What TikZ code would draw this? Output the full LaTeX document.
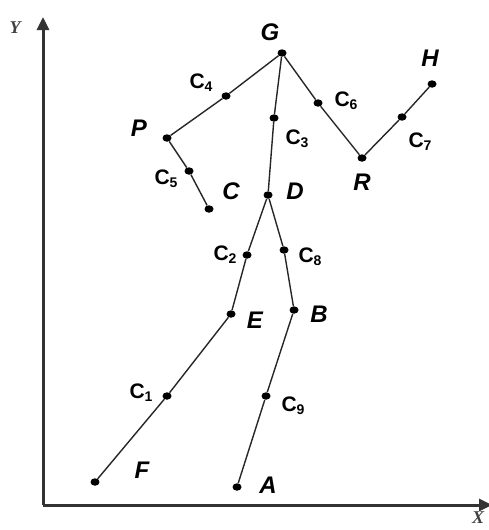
\documentclass[tikz,border=0pt]{standalone}
\usepackage{fontspec}
\usetikzlibrary{arrows.meta}
\newfontfamily\lblfont{Liberation Sans}
\newfontfamily\axfont{Liberation Serif}
\newcommand{\csub}[2]{#1\raisebox{-3pt}{\fontsize{14}{14}\selectfont #2}}
\tikzset{
  joint/.style={ellipse, fill=black, inner sep=0pt, minimum width=9pt, minimum height=7.5pt},
  seg/.style={line width=1.4pt, black!85},
  axis/.style={line width=3pt, black!80, -{Triangle[length=13pt,width=12pt]}},
  ptlbl/.style={font=\lblfont\fontsize{24}{24}\selectfont\bfseries\itshape},
  clbl/.style={font=\lblfont\fontsize{21}{21}\selectfont\bfseries},
  axlbl/.style={font=\axfont\fontsize{18}{18}\selectfont\bfseries\itshape, black!75}
}
\usetikzlibrary{shapes.geometric}
\begin{document}
\begin{tikzpicture}[x=1pt, y=-1pt]
\useasboundingbox (0,0) rectangle (488,530);
% axes
\coordinate (O) at (43,505);
\coordinate (ytip) at (43,17);
\coordinate (xtip) at (492,505);
\draw[axis] (O) -- (ytip);
\draw[axis] (O) -- (xtip);
\node[axlbl] (ylab) at (15,28) {Y};
\node[axlbl] (xlab) at (478,518) {X};
% joints
\node[joint] (G) at (282,53) {};
\node[joint] (C4) at (226,96) {};
\node[joint] (P) at (167,138) {};
\node[joint] (C5) at (189,171) {};
\node[joint] (C) at (209,209) {};
\node[joint] (C3) at (274,118) {};
\node[joint] (D) at (268,195) {};
\node[joint] (C6) at (318,103) {};
\node[joint] (R) at (362,158) {};
\node[joint] (C7) at (402,117) {};
\node[joint] (H) at (432,84) {};
\node[joint] (C2) at (247,255) {};
\node[joint] (C8) at (284,250) {};
\node[joint] (E) at (231,314) {};
\node[joint] (B) at (294,310) {};
\node[joint] (C1) at (167,396) {};
\node[joint] (C9) at (266,396) {};
\node[joint] (F) at (95,482) {};
\node[joint] (A) at (237,487) {};
% limbs
\draw[seg] (G) -- (C4) -- (P) -- (C5) -- (C);
\draw[seg] (G) -- (C3) -- (D);
\draw[seg] (G) -- (C6) -- (R) -- (C7) -- (H);
\draw[seg] (D) -- (C2) -- (E) -- (C1) -- (F);
\draw[seg] (D) -- (C8) -- (B) -- (C9) -- (A);
% labels
\node[ptlbl] (lG) at (270,32) {G};
\node[ptlbl] (lP) at (139,128) {P};
\node[ptlbl] (lC) at (231,191) {C};
\node[ptlbl] (lD) at (295,191) {D};
\node[ptlbl] (lR) at (362,182) {R};
\node[ptlbl] (lH) at (430,58) {H};
\node[ptlbl] (lE) at (255,320) {E};
\node[ptlbl] (lB) at (319,314) {B};
\node[ptlbl] (lF) at (142,470) {F};
\node[ptlbl] (lA) at (268,485) {A};
\node[clbl] (lC4) at (201,83) {\csub{C}{4}};
\node[clbl] (lC5) at (166,179) {\csub{C}{5}};
\node[clbl] (lC3) at (297,139) {\csub{C}{3}};
\node[clbl] (lC6) at (346,101) {\csub{C}{6}};
\node[clbl] (lC7) at (420,142) {\csub{C}{7}};
\node[clbl] (lC2) at (225,255) {\csub{C}{2}};
\node[clbl] (lC8) at (310,257) {\csub{C}{8}};
\node[clbl] (lC1) at (141,393) {\csub{C}{1}};
\node[clbl] (lC9) at (293,406) {\csub{C}{9}};
\end{tikzpicture}
\end{document}
